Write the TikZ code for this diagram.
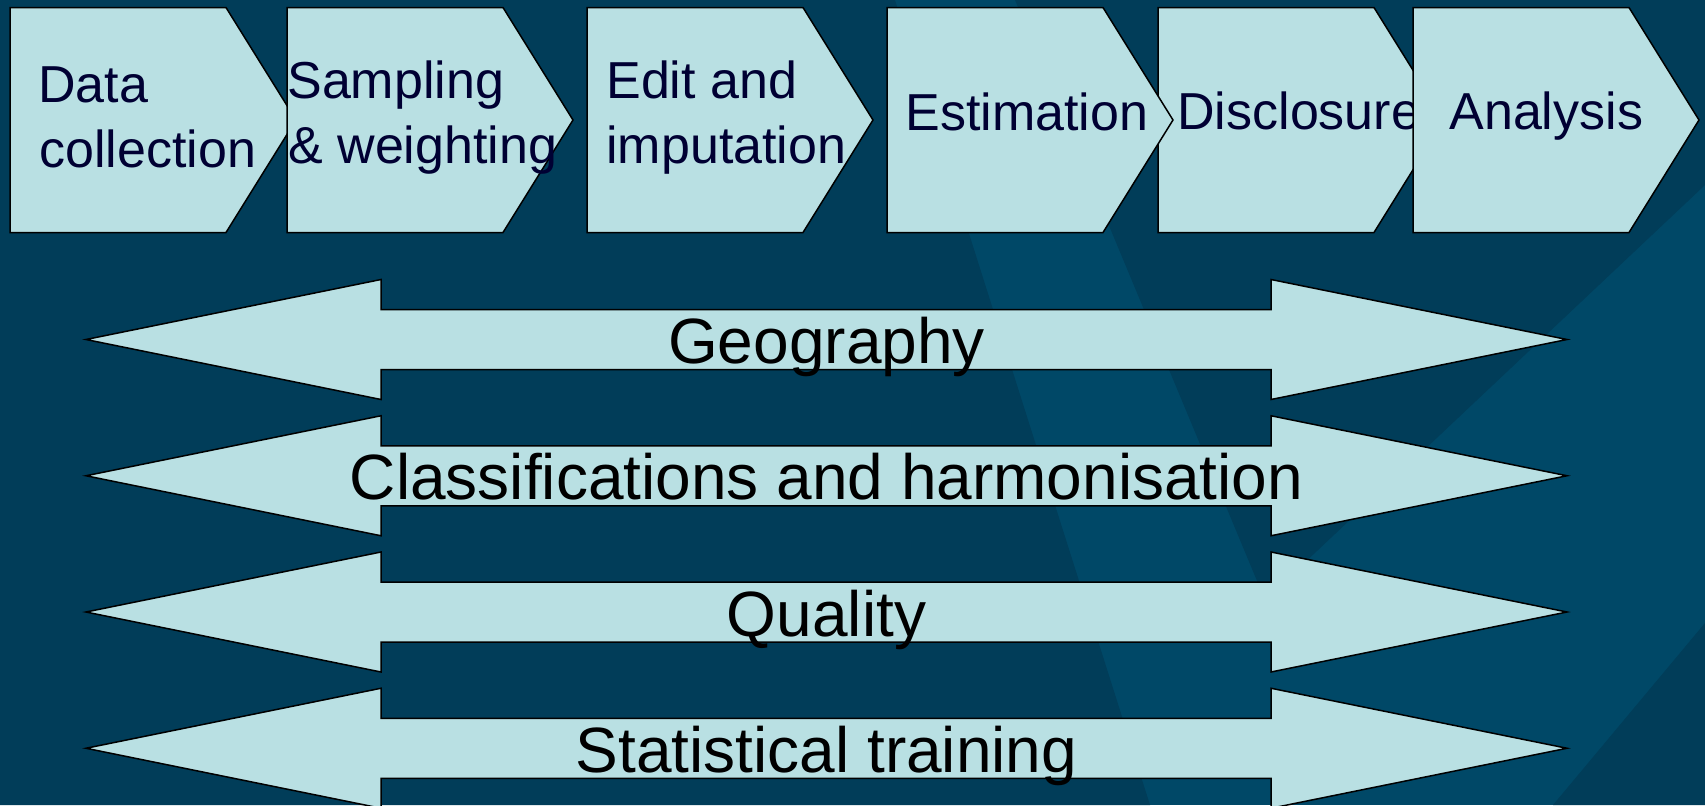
\documentclass[tikz,border=0pt]{standalone}
\usepackage{fontspec}
\setmainfont{Liberation Sans}
\definecolor{bgdark}{RGB}{1,61,89}
\definecolor{bglight}{RGB}{0,72,103}
\definecolor{boxfill}{RGB}{185,224,227}
\definecolor{navytext}{RGB}{0,0,51}
\tikzset{
  chev/.style={fill=boxfill, draw=black, line width=0.75pt, line join=miter},
  arr/.style={fill=boxfill, draw=black, line width=0.75pt, line join=miter},
  chevtext/.style={font=\fontsize{26}{32.5}\selectfont, text=navytext, inner sep=0pt, anchor=base west},
  arrtext/.style={font=\fontsize{32}{38}\selectfont, text=black, inner sep=0pt, anchor=base},
}
\newcommand\mychevron[1]{\draw[chev] (#1,7.5) -- ++(216,0) -- ++(70,112.5) -- ++(-70,112.5) -- ++(-216,0) -- cycle;}
\newcommand\mydblarrow[1]{\draw[arr] (86,#1) -- (381,{#1-60}) -- (381,{#1-30}) -- (1271,{#1-30}) -- (1271,{#1-60}) -- (1567,#1) -- (1271,{#1+60}) -- (1271,{#1+30}) -- (381,{#1+30}) -- (381,{#1+60}) -- cycle;}
\begin{document}
\begin{tikzpicture}[x=0.5pt,y=-0.5pt]
\useasboundingbox (0,0) rectangle (1705,805);
\begin{scope}
\clip (0,0) rectangle (1705,805);
% background
\fill[bglight] (0,0) rectangle (1705,805);
\fill[bgdark] (0,0) -- (895,0) -- (1150,805) -- (0,805) -- cycle;
\fill[bgdark] (1015,0) -- (1705,0) -- (1705,185) -- (1265,600) -- cycle;
\fill[bgdark] (1705,623) -- (1705,805) -- (1553,805) -- cycle;
% process chevrons
\mychevron{10}
\node[chevtext] (c1a) at (38,102) {Data};
\node[chevtext] (c1b) at (39,167) {collection};
\mychevron{287}
\node[chevtext] (c2a) at (287,98) {Sampling};
\node[chevtext] (c2b) at (288,163) {\& weighting};
\mychevron{587}
\node[chevtext] (c3a) at (606,98) {Edit and};
\node[chevtext] (c3b) at (606,163) {imputation};
\mychevron{1158}
\node[chevtext] (c5) at (1177,129) {Disclosure};
\mychevron{887}
\node[chevtext] (c4) at (905,130) {Estimation};
\mychevron{1413}
\node[chevtext] (c6) at (1449,129) {Analysis};
% cross-cutting double arrows
\mydblarrow{339.5}
\node[arrtext] (a1) at (826.5,363.5) {Geography};
\mydblarrow{475.75}
\node[arrtext] (a2) at (826.5,499.75) {Classifications and harmonisation};
\mydblarrow{612}
\node[arrtext] (a3) at (826.5,636) {Quality};
\mydblarrow{748.25}
\node[arrtext] (a4) at (826.5,772.25) {Statistical training};
\end{scope}
\end{tikzpicture}
\end{document}
